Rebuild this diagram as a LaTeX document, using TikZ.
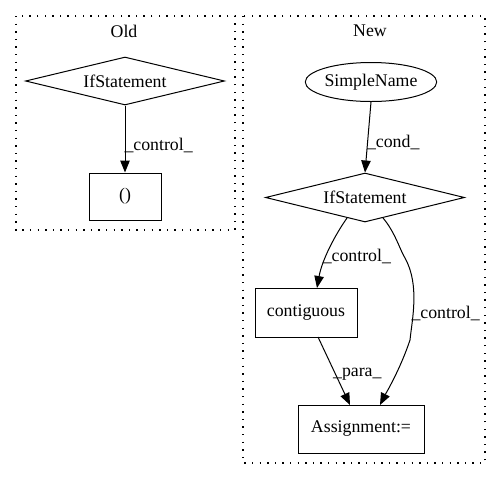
\documentclass[tikz,border=0pt]{standalone}
\usepackage{fontspec}
\setmainfont{Liberation Serif}
\usetikzlibrary{shapes.geometric,arrows.meta}
\begin{document}
\begin{tikzpicture}[x=1pt,y=-1pt,
  every node/.style={font=\fontsize{17.8}{20}\selectfont},
  cluster/.style={draw, dash pattern=on 1.4pt off 6.2pt, line width=1.4pt},
  box/.style={draw, rectangle, line width=1pt},
  dia/.style={draw, diamond, aspect=4.1, inner sep=1pt, line width=1pt},
  ell/.style={draw, ellipse, minimum width=115pt, minimum height=39pt, inner sep=0pt, line width=1pt},
  edge/.style={draw, line width=1pt, -{Triangle[length=12pt,width=9.5pt]}},
  lbl/.style={fill=none, inner sep=1pt}]
\useasboundingbox (0,0) rectangle (501,480);
\draw[cluster] (16,16) rectangle (235,230);
\draw[cluster] (243,16) rectangle (485,463);
\node (told) at (124,31) {Old};
\node (tnew) at (370,31) {New};
\node[dia, minimum width=199pt, minimum height=48pt] (ifo) at (125,81) {IfStatement};
\node[box, minimum width=72pt, minimum height=47pt] (par) at (125,196.5) {()};
\node[ell] (sn) at (371,82) {SimpleName};
\node[dia, minimum width=199pt, minimum height=49pt] (ifn) at (365,197.5) {IfStatement};
\node[box, minimum width=102pt, minimum height=49pt] (con) at (306,312.5) {contiguous};
\node[box, minimum width=126pt, minimum height=48pt] (asg) at (361,429) {Assignment:=};
\draw[edge] (ifo.south) -- node[lbl, right, pos=0.6, xshift=-2pt] {\_control\_} (par.north);
\draw[edge] (sn.south) -- node[lbl, right, pos=0.58, xshift=-2pt] {\_cond\_} (ifn.north);
\draw[edge] (347,218) .. controls (335,235) and (322,260) .. node[lbl, right, pos=0.6, xshift=-5pt] {\_control\_} (317,288);
\draw[edge] (383,218) .. controls (395,232) and (400,250) .. (405,258) .. controls (420,285) and (412,320) .. (410,340) .. controls (400,370) and (385,395) .. node[lbl, right, pos=0, yshift=27pt, xshift=0pt] {\_control\_} (380,405);
\draw[edge] (318,337) -- node[lbl, right, pos=0.55, xshift=-4pt] {\_para\_} (350,405);
\end{tikzpicture}
\end{document}
